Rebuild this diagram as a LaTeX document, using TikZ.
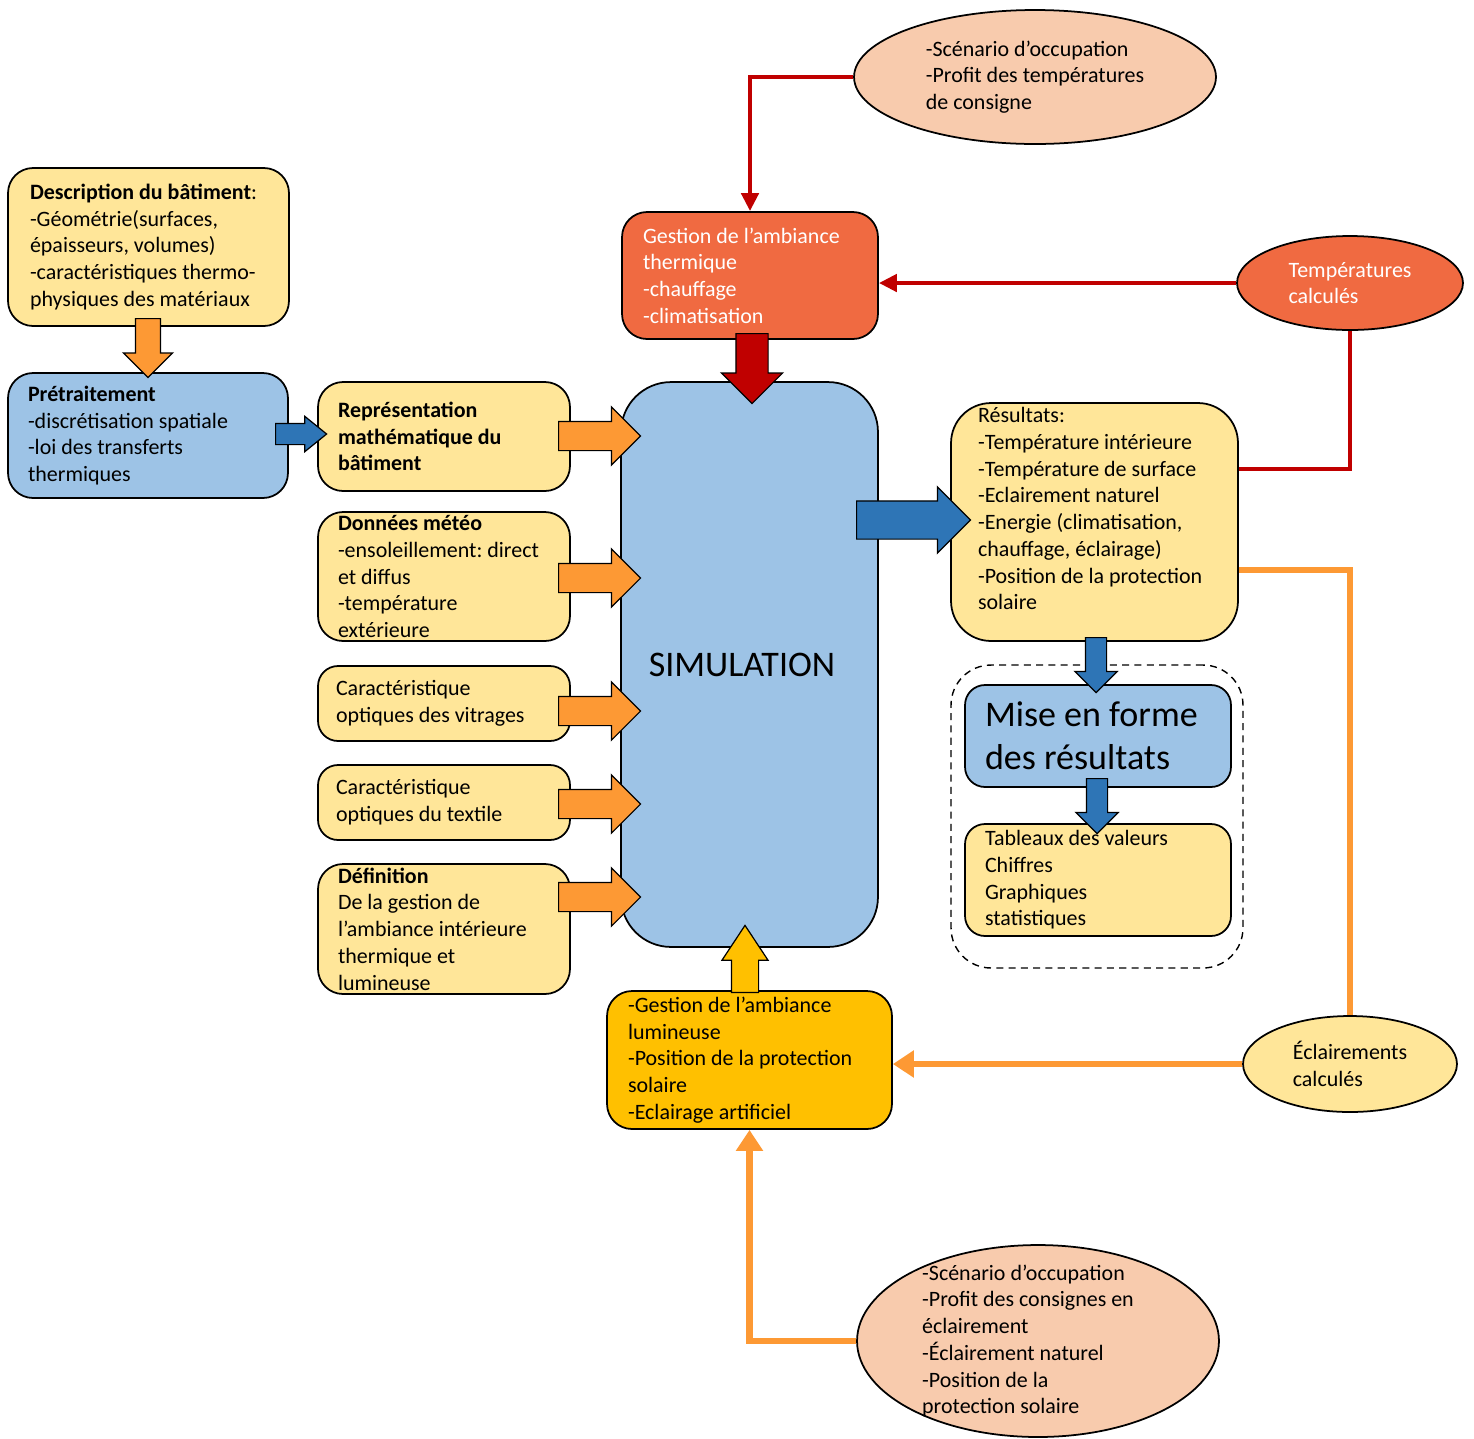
\documentclass[tikz,border=0pt]{standalone}
\usepackage{fontspec}
\setmainfont{Carlito}
\usepackage{tikz}
\usetikzlibrary{positioning,arrows.meta,shapes.geometric,shapes.arrows}
\definecolor{boxyellow}{RGB}{255,230,153}
\definecolor{boxblue}{RGB}{157,195,230}
\definecolor{boxred}{RGB}{240,106,65}
\definecolor{boxpeach}{RGB}{248,203,173}
\definecolor{boxgold}{RGB}{255,192,0}
\definecolor{arrorange}{RGB}{253,153,52}
\definecolor{arrblue}{RGB}{46,117,182}
\definecolor{darkred}{RGB}{192,0,0}

\begin{document}
\begin{tikzpicture}[x=0.02cm,y=-0.02cm,
    every node/.style={font=\fontsize{12.5}{15.2}\selectfont,
      execute at begin node={\spaceskip=0pt\xspaceskip=0pt\frenchspacing}},
    box/.style={draw,line width=1pt,rounded corners=0.5cm,align=left,inner sep=0pt},
    inbox/.style={box,fill=boxyellow,minimum width=5.04cm,text width=4.24cm},
    blob/.style={draw,ellipse,line width=1pt,inner sep=0pt,align=left},
    barrow/.style={single arrow,draw,line width=0.7pt,inner xsep=0pt,anchor=tail},
    oarrow/.style={barrow,fill=arrorange,minimum height=1.64cm,inner ysep=0.28cm,single arrow head extend=0.29cm},
    darrow/.style={barrow,fill=arrblue,rotate=270,minimum height=1.1cm,inner ysep=0.2cm,single arrow head extend=0.21cm},
    redlink/.style={line width=2.8pt,darkred,-{Triangle[length=0.36cm,width=0.34cm]}},
    orangelink/.style={line width=3.8pt,arrorange,-{Triangle[length=0.42cm,width=0.52cm]}}]
  \useasboundingbox (0,0) rectangle (1474,1438);

  % left column: building data
  \node[box,fill=boxyellow,minimum width=5.62cm,minimum height=3.16cm,text width=4.74cm] (desc) at (148.5,247)
    {\textbf{Description du bâtiment}:\\-Géométrie(surfaces,\\épaisseurs, volumes)\\-caractéristiques thermo-\\physiques des matériaux};
  \node[box,fill=boxblue,minimum width=5.6cm,minimum height=2.5cm,text width=4.8cm] (pretr) at (148,435.5)
    {\textbf{Prétraitement}\\-discrétisation spatiale\\-loi des transferts\\thermiques};

  % inputs of the simulation
  \node[inbox,minimum height=2.18cm] (repr) at (444,436.5)
    {\textbf{Représentation}\\\textbf{mathématique du}\\\textbf{bâtiment}};
  \node[inbox,minimum height=2.58cm] (meteo) at (444,576.5)
    {\textbf{Données météo}\\-ensoleillement: direct\\et diffus\\-température\\extérieure};
  \node[inbox,rounded corners=0.4cm,minimum height=1.5cm,text width=4.32cm] (vitr) at (444,703.5)
    {Caractéristique\\optiques des vitrages};
  \node[inbox,rounded corners=0.4cm,minimum height=1.5cm,text width=4.32cm] (texti) at (444,802.5)
    {Caractéristique\\optiques du textile};
  \node[inbox,minimum height=2.6cm] (defin) at (444,929)
    {\textbf{Définition}\\De la gestion de\\l’ambiance intérieure\\thermique et\\lumineuse};

  % centre
  \node[box,fill=boxblue,rounded corners=1cm,minimum width=5.14cm,minimum height=11.3cm,align=center,
    font=\fontsize{20.5}{24.5}\selectfont] (sim) at (749.5,664.5) {SIMULATION\hspace*{0.3cm}};
  \node[box,fill=boxred,text=white,minimum width=5.12cm,minimum height=2.54cm,text width=4.28cm] (therm) at (750,275.5)
    {Gestion de l’ambiance\\thermique\\-chauffage\\-climatisation};
  \node[box,fill=boxgold,minimum width=5.7cm,minimum height=2.76cm,text width=4.86cm] (lum) at (749.5,1060)
    {-Gestion de l’ambiance\\lumineuse\\-Position de la protection\\solaire\\-Eclairage artificiel};

  % scenarios and computed values
  \node[blob,fill=boxpeach,minimum width=7.24cm,minimum height=2.68cm] (tcons) at (1035,77)
    {-Scénario d’occupation\\-Profit des températures\\de consigne};
  \node[blob,fill=boxred,text=white,minimum width=4.52cm,minimum height=1.88cm] (tcalc) at (1350,283)
    {Températures\\calculés};
  \node[blob,fill=boxyellow,minimum width=4.28cm,minimum height=1.92cm] (ecalc) at (1350,1064)
    {Éclairements\\calculés};
  \node[blob,fill=boxpeach,minimum width=7.24cm,minimum height=3.84cm,
    label={[align=left,xshift=-0.2cm]center:{-Scénario d’occupation\\-Profit des consignes en\\éclairement\\-Éclairement naturel\\-Position de la\\protection solaire}}] (lcons) at (1038,1341) {};

  % results
  \node[draw,dashed,dash pattern=on 4pt off 3pt,line width=0.8pt,rounded corners=0.8cm,minimum width=5.84cm,minimum height=6.06cm] (grp) at (1097,816.5) {};
  \node[box,fill=boxyellow,rounded corners=0.8cm,minimum width=5.74cm,minimum height=4.76cm,text width=4.66cm] (res) at (1094.5,522)
    {Résultats:\\-Température intérieure\\-Température de surface\\-Eclairement naturel\\-Energie (climatisation,\\chauffage, éclairage)\\-Position de la protection\\solaire\\\mbox{}};
  \node[box,fill=boxblue,rounded corners=0.4cm,minimum width=5.32cm,minimum height=2.04cm,text width=4.52cm,
    font=\fontsize{20.5}{24.5}\selectfont] (mise) at (1098,736) {Mise en forme\\des résultats};
  \node[box,fill=boxyellow,rounded corners=0.4cm,minimum width=5.32cm,minimum height=2.24cm,text width=4.52cm] (tab) at (1098,880)
    {Tableaux des valeurs\\Chiffres\\Graphiques\\statistiques};

  % feedback lines
  \draw[redlink] (tcons.west) -| (therm.north);
  \draw[redlink] (tcalc.west) -- (tcalc.west -| therm.east);
  \draw[line width=2.8pt,darkred] ([yshift=1.06cm]res.east) -| (tcalc.south);
  \draw[line width=3.8pt,arrorange] ([yshift=-0.96cm]res.east) -| (ecalc.north);
  \draw[orangelink] (ecalc.west) -- (ecalc.west -| lum.east);
  \draw[orangelink] (lcons.west) -| (lum.south);

  % block arrows
  \node[barrow,fill=arrorange,rotate=270,minimum height=1.18cm,inner ysep=0.24cm,single arrow head extend=0.24cm] (a-desc) at (148,318) {};
  \node[barrow,fill=arrblue,minimum height=1.02cm,inner ysep=0.2cm,single arrow head extend=0.14cm,single arrow tip angle=78] (a-pretr) at (275,434) {};
  \foreach \yy/\nn in {436/repr,578/meteo,711/vitr,804/texti,897/defin}
    \node[oarrow] (a-\nn) at (558,\yy) {};
  \node[barrow,fill=darkred,rotate=270,minimum height=1.4cm,inner ysep=0.31cm,single arrow head extend=0.29cm] (a-therm) at (752,333) {};
  \node[barrow,fill=arrblue,minimum height=2.28cm,inner ysep=0.37cm,single arrow head extend=0.28cm] (a-sim) at (856,520) {};
  \node[darrow] (a-res) at (1096,637) {};
  \node[darrow] (a-mise) at (1097,778) {};
  \node[barrow,fill=boxgold,rotate=90,minimum height=1.34cm,inner ysep=0.26cm,single arrow head extend=0.19cm,single arrow tip angle=67] (a-lum) at (745,993) {};
\end{tikzpicture}
\end{document}
